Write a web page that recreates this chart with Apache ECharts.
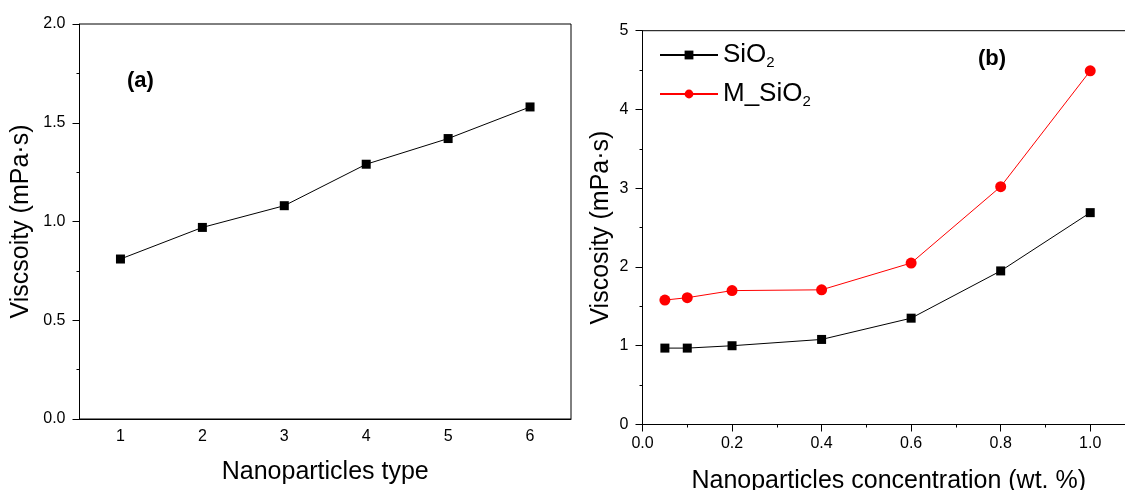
<!DOCTYPE html>
<html>
<head>
<meta charset="utf-8">
<title>Viscosity of nanofluids</title>
<script src="https://cdn.jsdelivr.net/npm/echarts@6/dist/echarts.min.js"></script>
<style>
  html, body { margin: 0; padding: 0; background: #fff; }
  #chart { width: 1125px; height: 490px; }
</style>
</head>
<body>
<div id="chart"></div>
<script>
// Panel (a): viscosity by nanoparticle type
const typeCategories = ['1', '2', '3', '4', '5', '6'];
const typeViscosity = [0.81, 0.97, 1.08, 1.29, 1.42, 1.58];

// Panel (b): viscosity vs. concentration
const concentration = [0.05, 0.1, 0.2, 0.4, 0.6, 0.8, 1.0];
const sio2Viscosity = [0.97, 0.97, 1.00, 1.08, 1.35, 1.95, 2.69];
const mSio2Viscosity = [1.58, 1.61, 1.70, 1.71, 2.05, 3.02, 4.49];

const FONT = "'Liberation Sans', Arial, Helvetica, sans-serif";
const INK = '#000';

const pairs = (xs, ys) => xs.map((x, i) => [x, ys[i]]);

const tickLabel = { color: INK, fontFamily: FONT, fontSize: 16 };
const titleText = { color: INK, fontFamily: FONT, fontSize: 25 };

const chart = echarts.init(document.getElementById('chart'), null, { renderer: 'canvas' });

chart.setOption({
  animation: false,
  backgroundColor: '#fff',
  grid: [
    { left: 79.5, top: 24, width: 491.5, height: 395, show: true, borderColor: INK, borderWidth: 1,
      containLabel: false, outerBoundsMode: 'none' },
    { left: 642.5, top: 30.7, width: 492.5, height: 393.8, show: true, borderColor: INK, borderWidth: 1,
      containLabel: false, outerBoundsMode: 'none' }
  ],
  xAxis: [
    {
      // ticks under each type label
      type: 'category', gridIndex: 0, position: 'bottom', data: typeCategories, boundaryGap: true,
      name: 'Nanoparticles type', nameLocation: 'middle', nameGap: 41, nameTextStyle: titleText,
      axisLine: { lineStyle: { color: INK, width: 1 } },
      axisTick: { alignWithLabel: true, length: 7, lineStyle: { color: INK } },
      axisLabel: Object.assign({ margin: 10 }, tickLabel),
      splitLine: { show: false }
    },
    {
      // short ticks between the types
      type: 'category', gridIndex: 0, position: 'bottom', data: typeCategories, boundaryGap: true,
      axisLine: { show: false },
      axisTick: { length: 3, lineStyle: { color: INK } },
      axisLabel: { show: false },
      splitLine: { show: false }
    },
    {
      type: 'value', gridIndex: 1, position: 'bottom', min: 0, max: 1.1, interval: 0.2,
      name: 'Nanoparticles concentration (wt. %)', nameLocation: 'middle', nameGap: 44, nameTextStyle: titleText,
      axisLine: { lineStyle: { color: INK, width: 1 } },
      axisTick: { length: 7, lineStyle: { color: INK } },
      minorTick: { show: true, splitNumber: 2, length: 3, lineStyle: { color: INK } },
      axisLabel: Object.assign({ margin: 11, formatter: v => v.toFixed(1) }, tickLabel),
      splitLine: { show: false }, minorSplitLine: { show: false }
    }
  ],
  yAxis: [
    {
      type: 'value', gridIndex: 0, min: 0, max: 2, interval: 0.5,
      name: 'Viscsoity (mPa·s)', nameLocation: 'middle', nameGap: 46, nameTextStyle: titleText,
      axisLine: { show: true, lineStyle: { color: INK, width: 1 } },
      axisTick: { show: true, length: 7, lineStyle: { color: INK } },
      minorTick: { show: true, splitNumber: 2, length: 3, lineStyle: { color: INK } },
      axisLabel: Object.assign({ margin: 14, formatter: v => v.toFixed(1) }, tickLabel),
      splitLine: { show: false }, minorSplitLine: { show: false }
    },
    {
      type: 'value', gridIndex: 1, min: 0, max: 5, interval: 1,
      name: 'Viscosity (mPa·s)', nameLocation: 'middle', nameGap: 29, nameTextStyle: titleText,
      axisLine: { show: true, lineStyle: { color: INK, width: 1 } },
      axisTick: { show: true, length: 7, lineStyle: { color: INK } },
      minorTick: { show: true, splitNumber: 2, length: 3, lineStyle: { color: INK } },
      axisLabel: Object.assign({ margin: 14 }, tickLabel),
      splitLine: { show: false }, minorSplitLine: { show: false }
    }
  ],
  legend: {
    data: ['SiO2', 'M_SiO2'],
    orient: 'vertical',
    left: 654, top: 35,
    itemWidth: 58, itemHeight: 11, itemGap: 9,
    formatter: name => '{m|' + name.slice(0, -1) + '}{s|2}',
    textStyle: {
      color: INK, fontFamily: FONT, fontSize: 26, lineHeight: 30,
      rich: {
        m: { color: INK, fontFamily: FONT, fontSize: 26, lineHeight: 30 },
        s: { color: INK, fontFamily: FONT, fontSize: 15, lineHeight: 30, verticalAlign: 'bottom' }
      }
    }
  },
  graphic: [
    { type: 'text', left: 127, top: 70, style: { text: '(a)', font: 'bold 22px ' + FONT, fill: INK } },
    { type: 'text', left: 978, top: 48, style: { text: '(b)', font: 'bold 22px ' + FONT, fill: INK } }
  ],
  series: [
    {
      name: 'Type', type: 'line', xAxisIndex: 0, yAxisIndex: 0,
      data: typeViscosity,
      symbol: 'rect', symbolSize: 9,
      lineStyle: { color: INK, width: 1 }, itemStyle: { color: INK }
    },
    {
      name: 'SiO2', type: 'line', xAxisIndex: 2, yAxisIndex: 1,
      data: pairs(concentration, sio2Viscosity),
      symbol: 'rect', symbolSize: 9,
      lineStyle: { color: INK, width: 1 }, itemStyle: { color: INK }
    },
    {
      name: 'M_SiO2', type: 'line', xAxisIndex: 2, yAxisIndex: 1,
      data: pairs(concentration, mSio2Viscosity),
      symbol: 'circle', symbolSize: 11,
      lineStyle: { color: '#ff0000', width: 1 }, itemStyle: { color: '#ff0000' }
    }
  ]
});
</script>
</body>
</html>
